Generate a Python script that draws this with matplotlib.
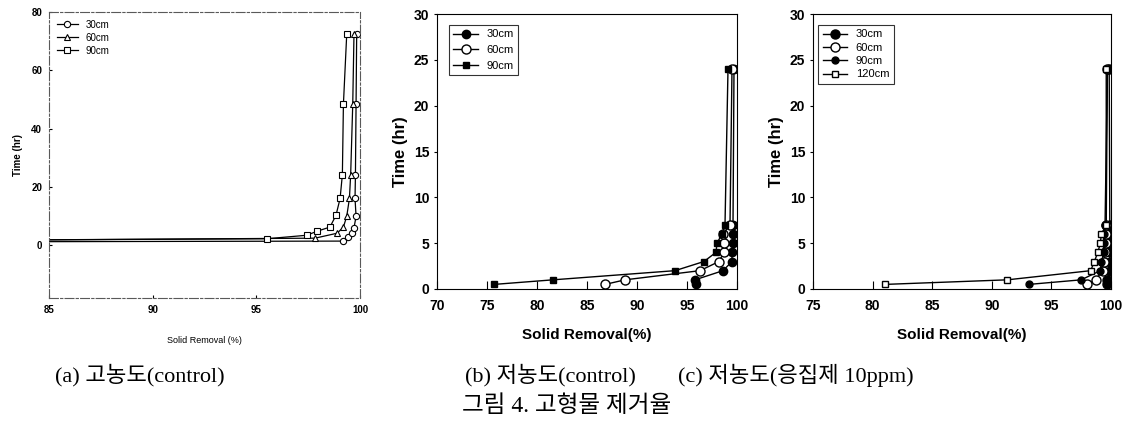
import matplotlib
matplotlib.use("Agg")
import matplotlib.pyplot as plt

plt.rcParams['font.family'] = ['Liberation Sans', 'DejaVu Sans']

# (a) 고농도(control)
a_labels = ["30cm", "60cm", "90cm"]
a_x_30 = [70.0, 99.2, 99.44, 99.6, 99.71, 99.81, 99.76, 99.78, 99.81, 99.84]
a_y_30 = [1.1, 1.5, 3.0, 4.4, 6.0, 10.0, 16.1, 24.3, 48.4, 72.4]
a_x_60 = [70.0, 97.83, 98.9, 99.2, 99.36, 99.49, 99.55, 99.65, 99.71]
a_y_60 = [1.3, 2.5, 4.2, 6.3, 10.0, 16.1, 24.3, 48.4, 72.4]
a_x_90 = [70.0, 95.5, 97.43, 97.94, 98.55, 98.84, 99.04, 99.15, 99.2, 99.36]
a_y_90 = [1.4, 2.3, 3.5, 4.9, 6.3, 10.3, 16.1, 24.3, 48.4, 72.4]

# (b) 저농도(control)
b_time = [0.5, 1, 2, 3, 4, 5, 6, 7, 24]
b_30 = [95.9, 95.8, 98.6, 99.5, 99.5, 99.6, 99.6, 99.6, 99.7]
b_60 = [86.8, 88.8, 96.3, 98.2, 98.7, 98.7, 98.6, 99.3, 99.5]
b_90 = [75.7, 81.6, 93.8, 96.7, 97.9, 98.0, 98.5, 98.8, 99.1]

# (c) 저농도(응집제 10ppm)
c_time = [0.5, 1, 2, 3, 4, 5, 6, 7, 24]
c_30 = [99.7, 99.7, 99.9, 99.9, 99.9, 99.9, 99.9, 99.9, 99.85]
c_60 = [98.0, 98.7, 99.3, 99.4, 99.5, 99.6, 99.6, 99.6, 99.7]
c_90 = [93.1, 97.5, 99.1, 99.2, 99.4, 99.4, 99.4, 99.5, 99.7]
c_120 = [81.0, 91.3, 98.3, 98.6, 98.9, 99.1, 99.2, 99.6, 99.6]

captions = ["(a) 고농도(control)", "(b) 저농도(control)", "(c) 저농도(응집제 10ppm)"]
main_caption = "그림 4. 고형물 제거율"

W, H = 1126, 438
fig = plt.figure(figsize=(W / 100, H / 100), dpi=100)


def box(x0, y0, x1, y1):
    return [x0 / W, 1 - y1 / H, (x1 - x0) / W, (y1 - y0) / H]


# ---- panel a
ax1 = fig.add_axes(box(49, 12, 360, 298))
ax1.plot(a_x_30, a_y_30, '-o', color='black', mfc='white', ms=4.5, lw=0.9, mew=0.8, label=a_labels[0])
ax1.plot(a_x_60, a_y_60, '-^', color='black', mfc='white', ms=4.5, lw=0.9, mew=0.8, label=a_labels[1])
ax1.plot(a_x_90, a_y_90, '-s', color='black', mfc='white', ms=4.5, lw=0.9, mew=0.8, label=a_labels[2])
ax1.set_xlim(85, 100)
ax1.set_ylim(-18, 80)
ax1.set_xticks([85, 90, 95, 100])
ax1.set_yticks([0, 20, 40, 60, 80])
ax1.tick_params(labelsize=7, length=2, direction='in', pad=5)
for t in ax1.get_xticklabels() + ax1.get_yticklabels():
    t.set_fontweight('bold')
for s in ax1.spines.values():
    s.set_linestyle((0, (8, 2, 2, 2)))
    s.set_color('0.35')
    s.set_linewidth(0.8)
ax1.set_ylabel("Time (hr)", fontsize=7, fontweight='bold', labelpad=6)
ax1.set_xlabel("Solid Removal (%)", fontsize=6.5, labelpad=15)
ax1.legend(loc='upper left', frameon=False, fontsize=7, handlelength=2.2,
           borderaxespad=0.4, labelspacing=0.3)

# ---- panel b
ax2 = fig.add_axes(box(437, 14, 737, 289))
ax2.plot(b_30, b_time, '-o', color='black', mfc='black', ms=6, lw=1, label="30cm")
ax2.plot(b_60, b_time, '-o', color='black', mfc='white', ms=6.5, lw=1, label="60cm")
ax2.plot(b_90, b_time, '-s', color='black', mfc='black', ms=5, lw=1, label="90cm")
ax2.set_xlim(70, 100)
ax2.set_ylim(0, 30)
ax2.set_xticks([70, 75, 80, 85, 90, 95, 100])
ax2.set_yticks([0, 5, 10, 15, 20, 25, 30])

# ---- panel c
ax3 = fig.add_axes(box(813, 14, 1111, 289))
ax3.plot(c_30, c_time, '-o', color='black', mfc='black', ms=6.5, lw=1, label="30cm")
ax3.plot(c_60, c_time, '-o', color='black', mfc='white', ms=6.5, lw=1, label="60cm")
ax3.plot(c_90, c_time, '-o', color='black', mfc='black', ms=5, lw=1, label="90cm")
ax3.plot(c_120, c_time, '-s', color='black', mfc='white', ms=5, lw=1, label="120cm")
ax3.set_xlim(75, 100)
ax3.set_ylim(0, 30)
ax3.set_xticks([75, 80, 85, 90, 95, 100])
ax3.set_yticks([0, 5, 10, 15, 20, 25, 30])

for ax, anchor, spacing in [(ax2, 0.04, 0.5), (ax3, 0.017, 0.3)]:
    ax.tick_params(axis='x', direction='in', length=6, labelsize=10, pad=7)
    ax.tick_params(axis='y', direction='out', length=2, labelsize=10)
    for t in ax.get_xticklabels() + ax.get_yticklabels():
        t.set_fontweight('bold')
    ax.set_ylabel("Time (hr)", fontsize=12, fontweight='bold', labelpad=4)
    ax.set_xlabel("Solid Removal(%)", fontsize=11, fontweight='bold', labelpad=11)
    lg = ax.legend(loc='upper left', fontsize=8, fancybox=False, edgecolor='black',
                   bbox_to_anchor=(anchor, 0.96), handlelength=2.2, labelspacing=spacing,
                   borderaxespad=0)
    lg.get_frame().set_linewidth(0.8)

# ---- captions
cap_font = ['Liberation Serif', 'Noto Sans CJK KR']
fig.text(140 / W, 1 - 375 / H, captions[0], fontsize=16, family=cap_font, va='center', ha='center')
fig.text(550 / W, 1 - 375 / H, captions[1], fontsize=16, family=cap_font, va='center', ha='center')
fig.text(796 / W, 1 - 375 / H, captions[2], fontsize=16, family=cap_font, va='center', ha='center')
fig.text(567 / W, 1 - 406 / H, main_caption, fontsize=17, family=cap_font, va='center', ha='center')

fig.savefig("out.png", dpi=100)
